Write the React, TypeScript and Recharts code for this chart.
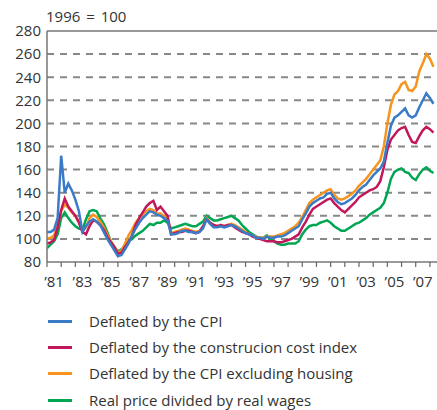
import { LineChart, Line, XAxis, YAxis, ReferenceLine } from "recharts";

// quarterly observations, index 0 = 1981 Q1
const START_YEAR = 1981;
const cpi = [
  106, 106, 108, 118, 172, 140, 148, 142, 134, 124, 106, 111, 115, 117, 115, 112,
  106, 100, 95, 90, 85, 86, 91, 96, 103, 109, 114, 118, 121, 124, 123, 121,
  120, 118, 116, 104, 104, 105, 107, 107, 106, 106, 105, 106, 109, 117, 113, 110,
  110, 111, 110, 111, 112, 111, 109, 107, 105, 104, 103, 101, 101, 100, 102, 101,
  101, 102, 102, 103, 105, 107, 109, 111, 117, 122, 128, 131, 133, 135, 136, 139,
  140, 135, 132, 130, 131, 133, 135, 138, 142, 145, 147, 151, 155, 158, 161, 167,
  183, 198, 205, 207, 210, 213, 207, 205, 207, 214, 220, 226, 222, 217,
];
const construction = [
  96, 97, 99, 110, 125, 135, 128, 124, 120, 114, 106, 104, 111, 116, 115, 112,
  108, 102, 97, 93, 87, 88, 93, 97, 103, 112, 118, 123, 128, 131, 133, 125,
  128, 124, 120, 104, 105, 106, 106, 107, 107, 106, 105, 106, 111, 117, 114, 112,
  111, 112, 111, 112, 112, 110, 108, 106, 105, 104, 102, 101, 100, 99, 98, 98,
  98, 97, 97, 98, 99, 100, 102, 104, 110, 115, 121, 126, 128, 130, 132, 134,
  135, 131, 128, 125, 123, 126, 129, 132, 136, 138, 140, 142, 143, 145, 150, 162,
  177, 186, 190, 194, 196, 197, 190, 184, 183, 189, 194, 197, 195, 192,
];
const cpiExHousing = [
  100, 101, 103, 112, 124, 130, 127, 123, 120, 115, 107, 110, 118, 121, 119, 115,
  110, 104, 98, 93, 88, 90, 96, 103, 108, 114, 118, 121, 124, 126, 125, 122,
  122, 120, 117, 105, 106, 107, 108, 109, 108, 107, 106, 107, 110, 118, 114, 112,
  111, 112, 111, 112, 113, 112, 110, 108, 106, 104, 103, 102, 101, 101, 102, 102,
  102, 103, 104, 105, 107, 109, 111, 114, 119, 125, 131, 134, 136, 138, 140, 142,
  143, 138, 135, 134, 135, 137, 139, 142, 146, 149, 152, 156, 160, 164, 168, 180,
  200, 216, 225, 228, 234, 236, 229, 228, 232, 245, 252, 260, 256, 249,
];
const wages = [
  92, 95, 98, 104, 118, 123, 118, 114, 111, 109, 108, 117, 124, 125, 124, 118,
  113, 106, 98, 93, 89, 91, 94, 98, 100, 103, 105, 107, 110, 113, 112, 114,
  114, 116, 114, 109, 110, 111, 112, 113, 112, 111, 111, 113, 115, 120, 118, 116,
  116, 117, 118, 119, 120, 118, 116, 112, 109, 106, 104, 102, 101, 101, 103, 99,
  98, 96, 95, 95, 96, 96, 96, 98, 104, 108, 111, 112, 112, 114, 115, 116,
  114, 111, 109, 107, 107, 109, 111, 113, 114, 116, 118, 121, 123, 125, 127, 131,
  140, 152, 158, 160, 161, 158, 157, 153, 151, 156, 160, 162, 159, 157,
];

const yTicks = [80, 100, 120, 140, 160, 180, 200, 220, 240, 260, 280];
const gridValues = [100, 120, 140, 160, 180, 200, 220, 240, 260];
const yearTicks = [
  1981, 1982, 1983, 1984, 1985, 1986, 1987, 1988, 1989, 1990, 1991, 1992, 1993, 1994,
  1995, 1996, 1997, 1998, 1999, 2000, 2001, 2002, 2003, 2004, 2005, 2006, 2007, 2008,
];

const series = [
  { key: "cpi", name: "Deflated by the CPI", color: "#3a7bc8" },
  { key: "construction", name: "Deflated by the construcion cost index", color: "#c2185b" },
  { key: "cpiExHousing", name: "Deflated by the CPI excluding housing", color: "#f7941d" },
  { key: "wages", name: "Real price divided by real wages", color: "#00a651" },
];

const data = cpi.map((v, i) => ({
  t: START_YEAR + i / 4,
  cpi: v,
  construction: construction[i],
  cpiExHousing: cpiExHousing[i],
  wages: wages[i],
}));

const FONT = "'Open Sans', sans-serif";
const PX_PER_YEAR = 390 / 27.5;

const YearTick = (props: any) => {
  const { x, y, payload } = props;
  const yr = payload.value as number;
  return (
    <g>
      <line x1={x} y1={y} x2={x} y2={y + 5} stroke="#666" strokeWidth={1.2} />
      {yr % 2 === 1 && yr < 2008 && (
        <text x={x + PX_PER_YEAR / 2} y={y + 25} textAnchor="middle" fontSize={15} fill="#333" fontFamily={FONT}>
          {"\u2019" + String(yr).slice(2)}
        </text>
      )}
    </g>
  );
};

export default function App() {
  return (
    <div style={{ position: "absolute", left: 0, top: 0, width: 437, height: 410, background: "#fff", fontFamily: FONT }}>
      <div style={{ position: "absolute", left: 46, top: 6, fontSize: 15, color: "#333", wordSpacing: 2 }}>1996 = 100</div>
      <LineChart width={437} height={300} data={data} margin={{ top: 31, right: 0, bottom: 0, left: 0 }}>
        <XAxis
          dataKey="t"
          type="number"
          domain={[1981, 2008.5]}
          ticks={yearTicks}
          interval={0}
          height={38}
          stroke="#777"
          strokeWidth={1.5}
          tickLine={false}
          tickSize={0}
          tickMargin={0}
          tick={<YearTick />}
          allowDataOverflow
        />
        <YAxis
          domain={[80, 280]}
          ticks={yTicks}
          interval={0}
          width={47}
          stroke="#777"
          strokeWidth={1.5}
          tickLine={false}
          tickSize={5}
          tickMargin={1}
          tick={{ fontSize: 15, fill: "#333", fontFamily: FONT }}
        />
        {gridValues.map((g) => (
          <ReferenceLine key={g} y={g} stroke="#888" strokeWidth={2} strokeDasharray="7 6" />
        ))}
        <ReferenceLine y={280} stroke="#777" strokeWidth={1.5} />
        {[...series].reverse().map((s) => (
          <Line
            key={s.key}
            dataKey={s.key}
            type="linear"
            stroke={s.color}
            strokeWidth={2.5}
            dot={false}
            isAnimationActive={false}
          />
        ))}
      </LineChart>
      <div style={{ position: "absolute", left: 48, top: 308 }}>
        {series.map((s) => (
          <div key={s.key} style={{ display: "flex", alignItems: "center", height: 26.3 }}>
            <div style={{ width: 24, height: 3, background: s.color, marginRight: 17 }} />
            <span style={{ fontSize: 15, lineHeight: 1, color: "#333" }}>{s.name}</span>
          </div>
        ))}
      </div>
    </div>
  );
}
